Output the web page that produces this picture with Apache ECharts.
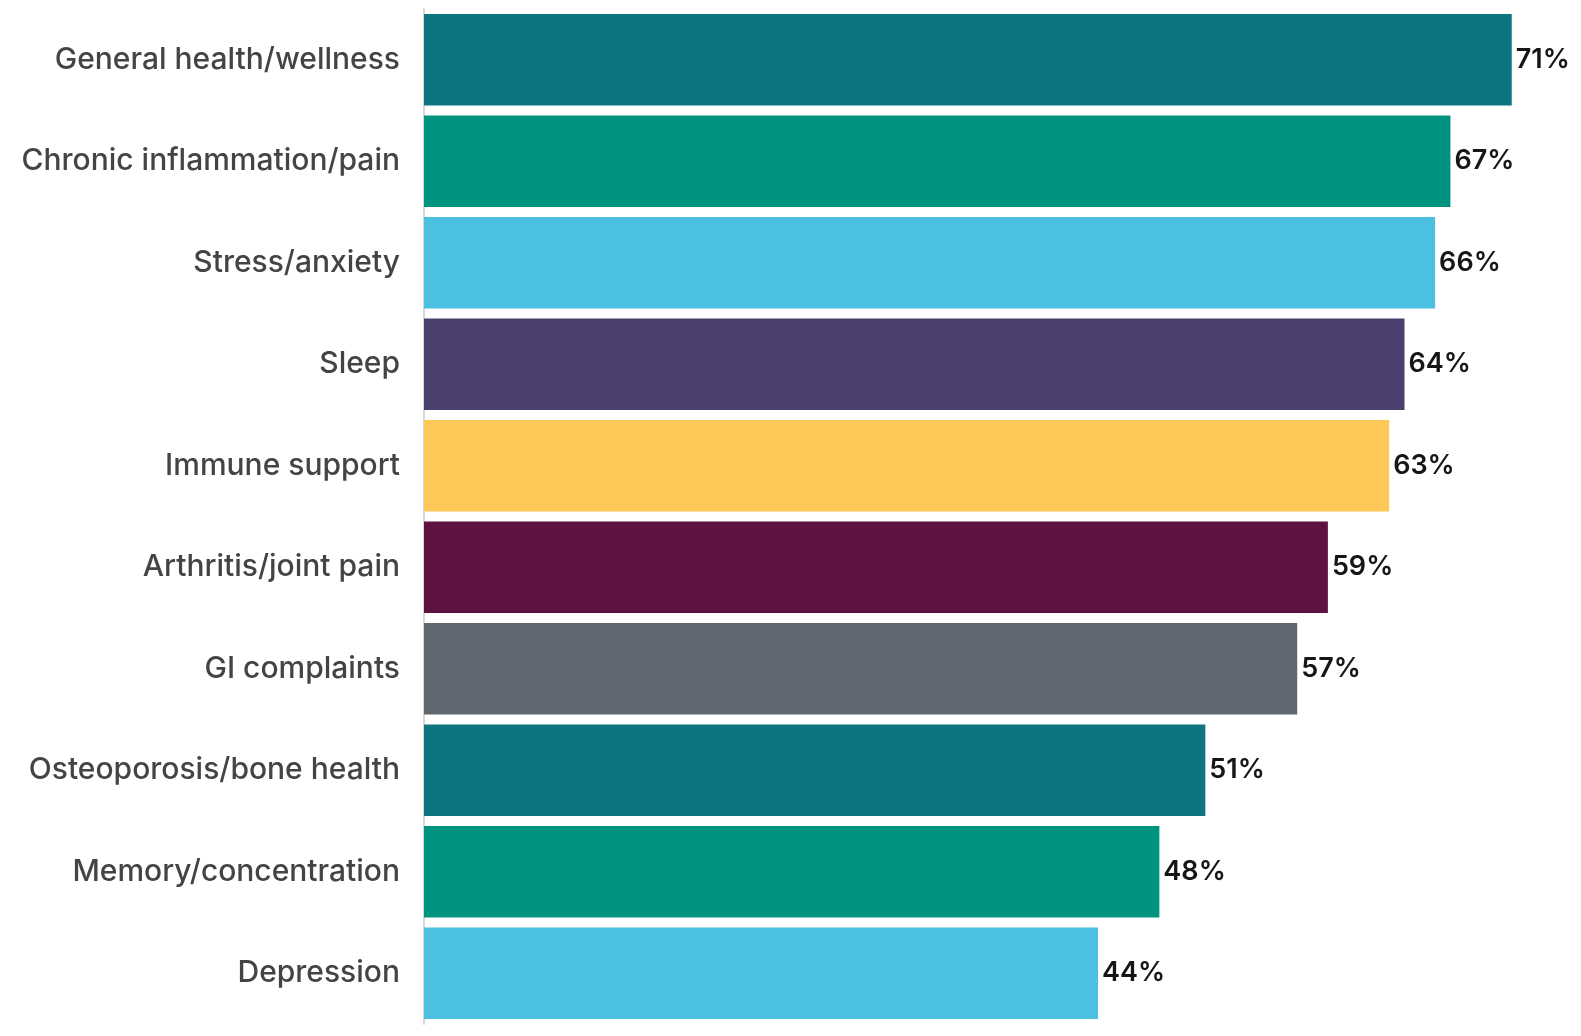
<!DOCTYPE html>
<html><head><meta charset="utf-8">
<script src="https://cdn.jsdelivr.net/npm/echarts@6/dist/echarts.min.js"></script>
<style>html,body{margin:0;padding:0;background:#fff}#c{width:1581px;height:1036px}</style>
</head><body><div id="c"></div>
<script>
const categories = ["General health/wellness","Chronic inflammation/pain","Stress/anxiety","Sleep","Immune support","Arthritis/joint pain","GI complaints","Osteoporosis/bone health","Memory/concentration","Depression"];
const values = [71,67,66,64,63,59,57,51,48,44];
const colors = ["#0C7580","#009480","#4BC0E0","#4B3F6F","#FDC858","#5E123F","#5F6870","#0C7580","#009480","#4BC0E0"];

const chart = echarts.init(document.getElementById('c'));
chart.setOption({
  animation:false,
  grid:{left:424,right:8,top:9,bottom:12,containLabel:false},
  xAxis:{type:'value',min:0,max:75,show:false},
  yAxis:{type:'category',data:categories,inverse:true,
    axisLine:{show:true,lineStyle:{color:'#d9d9d9',width:2}},
    axisTick:{show:false},
    axisLabel:{color:'#444',fontFamily:'Inter',fontWeight:500,fontSize:30,margin:24}},
  series:[{type:'bar',barCategoryGap:'10%',
    data:values.map((v,i)=>({value:v,itemStyle:{color:colors[i]}})),
    label:{show:true,position:'right',distance:4,formatter:'{c}%',color:'#161616',fontFamily:'Inter',fontWeight:600,fontSize:27}}]
});
</script></body></html>
